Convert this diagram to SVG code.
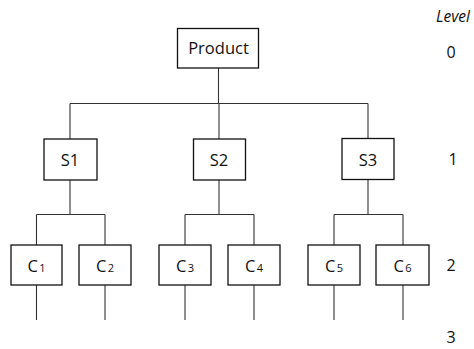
<svg xmlns="http://www.w3.org/2000/svg" width="474" height="349" viewBox="0 0 474 349">
<style>
.box{fill:#fff;stroke:#111;stroke-width:1.3}
.ln{stroke:#333;stroke-width:1.1;fill:none}
text{font-family:"Open Sans","Liberation Sans",sans-serif;fill:#111}
.lbl{font-size:16.5px;text-anchor:middle}
.sub{font-size:11px}
.lvl{font-size:16px;text-anchor:middle}
</style>
<rect width="474" height="349" fill="#fff"/>
<g id="connectors">
<path class="ln" d="M218.5 68 V103.5 M70 103.5 H368 M70 103.5 V139 M219 103.5 V139 M368 103.5 V139"/>
<path class="ln" d="M70 180 V214.5 M36.5 214.5 H105 M36.5 214.5 V245 M105 214.5 V245"/>
<path class="ln" d="M219 180 V214.5 M185 214.5 H254 M185 214.5 V245 M254 214.5 V245"/>
<path class="ln" d="M368 180 V214.5 M334 214.5 H403 M334 214.5 V245 M403 214.5 V245"/>
<path class="ln" d="M36.5 285 V320 M105 285 V320 M185 285 V320 M254 285 V320 M334 285 V320 M403 285 V320"/>
</g>
<g id="product"><rect class="box" x="177.5" y="28.5" width="81" height="39.5"/><text class="lbl" x="218.5" y="54">Product</text></g>
<g id="s1"><rect class="box" x="44" y="139" width="53" height="41"/><text class="lbl" x="70" y="166">S1</text></g>
<g id="s2"><rect class="box" x="193.5" y="139" width="52" height="41"/><text class="lbl" x="219" y="166">S2</text></g>
<g id="s3"><rect class="box" x="342" y="138.5" width="52" height="41"/><text class="lbl" x="368" y="165.5">S3</text></g>
<g id="c1"><rect class="box" x="11" y="245" width="51" height="40"/><text class="lbl" x="36.5" y="272">C<tspan class="sub" dx="1.5">1</tspan></text></g>
<g id="c2"><rect class="box" x="79" y="245" width="52" height="40"/><text class="lbl" x="105" y="272">C<tspan class="sub" dx="1.5">2</tspan></text></g>
<g id="c3"><rect class="box" x="159" y="245" width="52" height="40"/><text class="lbl" x="185" y="272">C<tspan class="sub" dx="1.5">3</tspan></text></g>
<g id="c4"><rect class="box" x="228" y="245" width="52" height="40"/><text class="lbl" x="254" y="272">C<tspan class="sub" dx="1.5">4</tspan></text></g>
<g id="c5"><rect class="box" x="308" y="245" width="52" height="40"/><text class="lbl" x="334" y="272">C<tspan class="sub" dx="1.5">5</tspan></text></g>
<g id="c6"><rect class="box" x="376" y="245" width="53" height="40"/><text class="lbl" x="402.5" y="272">C<tspan class="sub" dx="1.5">6</tspan></text></g>
<g id="levels">
<text x="453" y="22" style="font-size:15.5px;font-style:italic;text-anchor:middle">Level</text>
<text class="lvl" x="451" y="58">0</text>
<text class="lvl" x="453" y="165">1</text>
<text class="lvl" x="451" y="271">2</text>
<text class="lvl" x="451" y="343">3</text>
</g>
</svg>
